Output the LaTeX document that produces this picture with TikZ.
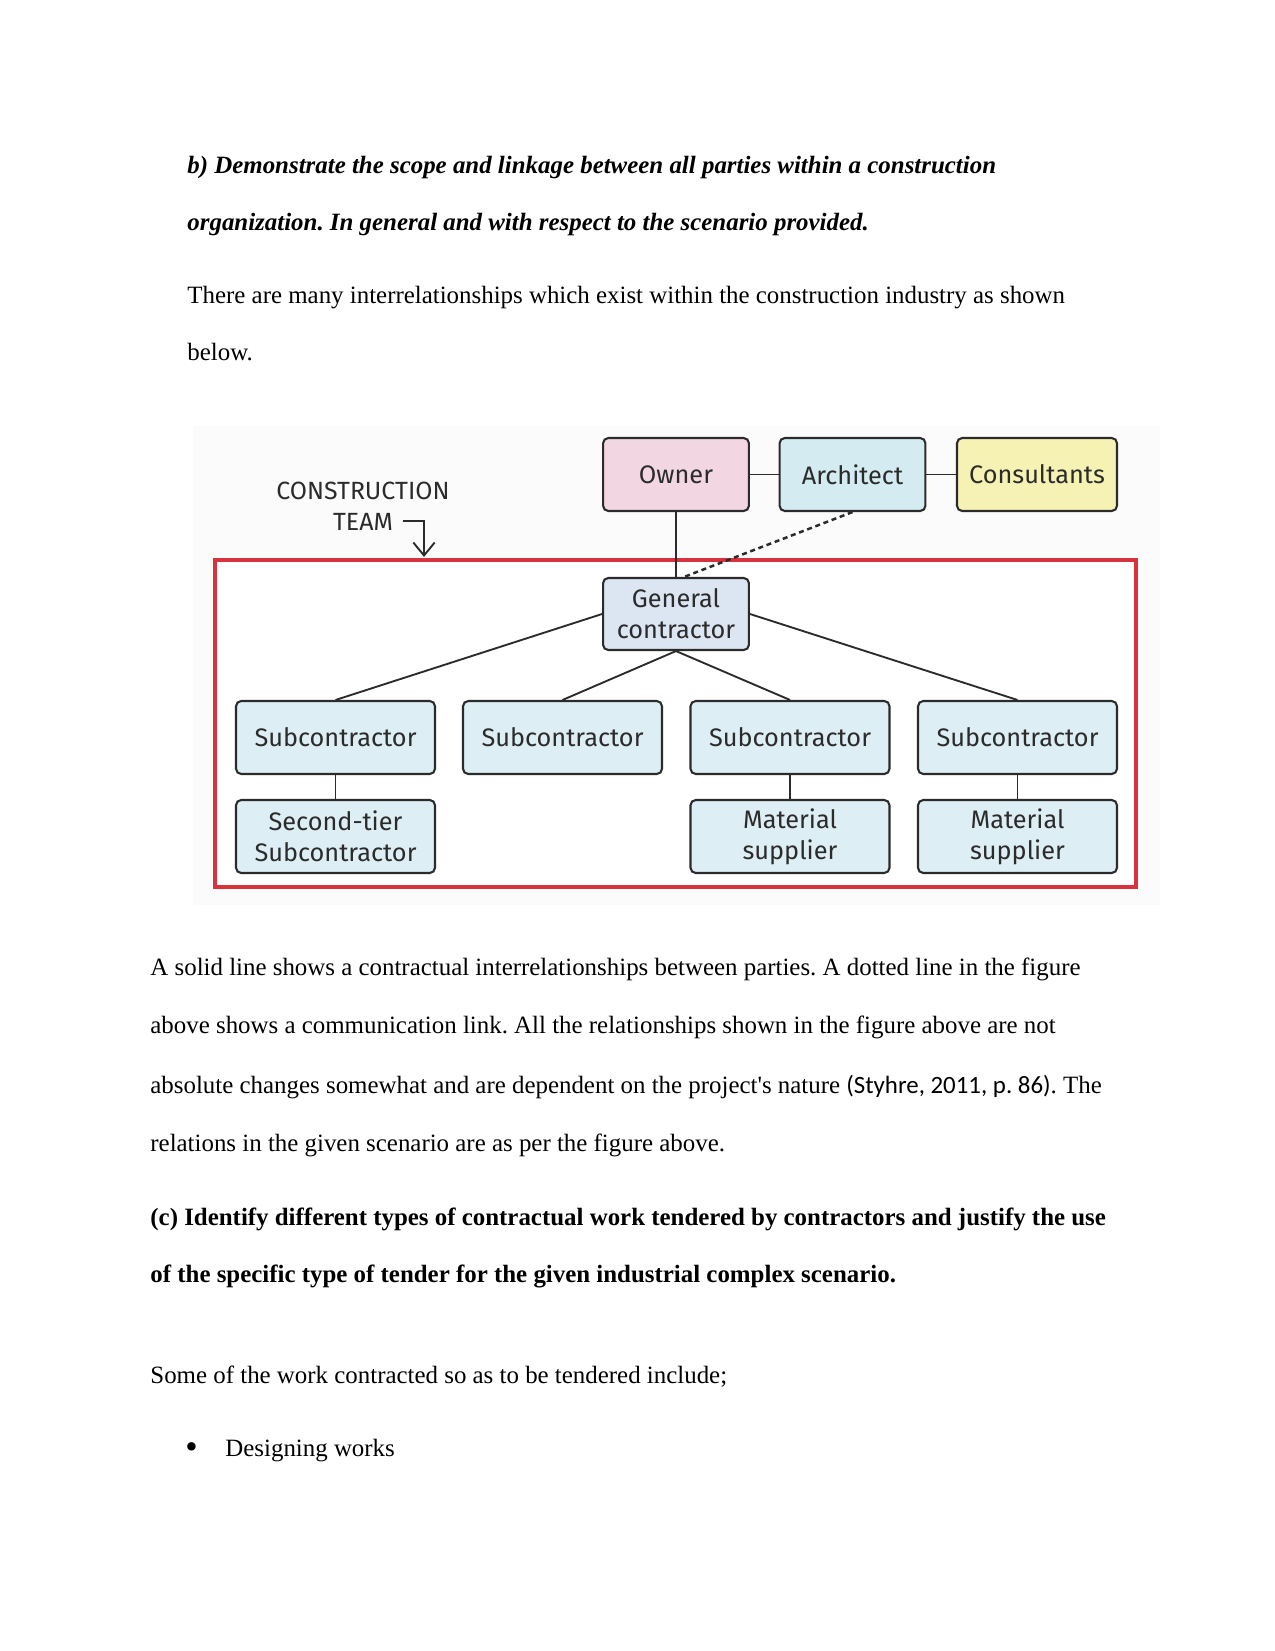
\documentclass[tikz,border=0pt]{standalone}
\usepackage{fontspec}
\setmainfont{Liberation Serif}
\newfontfamily\boxfont{Fira Sans}
\newfontfamily\citefont{Carlito}
\usetikzlibrary{arrows.meta,positioning,calc}
\frenchspacing
\definecolor{Ink}{HTML}{2B2B2B}
\definecolor{OwnerPink}{HTML}{F2D6E2}
\definecolor{ArchBlue}{HTML}{D3EBF1}
\definecolor{ConsYellow}{HTML}{F6F2B4}
\definecolor{GCBlue}{HTML}{DCE5F2}
\definecolor{SubBlue}{HTML}{DDEEF4}
\definecolor{TeamRed}{HTML}{D8333D}
\definecolor{Backdrop}{HTML}{FBFBFB}
\tikzset{party/.style={rectangle,rounded corners=2.5pt,draw=Ink,line width=1pt,minimum width=2.47cm,minimum height=1.236cm,align=center,text=Ink,font=\boxfont\fontsize{12.2}{15}\selectfont},crew/.style={party,fill=SubBlue,minimum width=3.37cm},link/.style={draw=Ink,line width=0.9pt},commlink/.style={draw=Ink,line width=1.2pt,dash pattern=on 2.4pt off 1.8pt},teamarrow/.style={draw=Ink,line width=0.9pt,-{Straight Barb[length=2.2mm,width=3.6mm]}},bodytext/.style={anchor=base west,inner sep=0pt,text=black,font=\fontsize{12}{14}\selectfont}}

\begin{document}
\begin{tikzpicture}[x=0.016933cm,y=-0.016933cm]
\useasboundingbox (0,0) rectangle (1275,1651);
\fill[white] (0,0) rectangle (1275,1651);
% heading and lead-in
\node[bodytext,font=\bfseries\itshape\fontsize{12}{14}\selectfont] (qb1) at (187,173) {b) Demonstrate the scope and linkage between all parties within a construction};
\node[bodytext,font=\bfseries\itshape\fontsize{12}{14}\selectfont] (qb2) at (187,230) {organization. In general and with respect to the scenario provided.};
\node[bodytext] (intro1) at (187,303.5) {There are many interrelationships which exist within the construction industry as shown};
\node[bodytext] (intro2) at (187,360.5) {below.};
% figure
\fill[Backdrop] (193,426) rectangle (1160,905);
\fill[white] (215,560) rectangle (1136,887);
\draw[TeamRed,line width=1.8pt] (215,560) rectangle (1136,887);
\node[party,fill=OwnerPink] (owner) at (676,474.5) {Owner};
\node[party,fill=ArchBlue] (arch) at (852.5,474.5) {Architect};
\node[party,fill=ConsYellow,minimum width=2.71cm] (cons) at (1037,474.5) {Consultants};
\node[party,fill=GCBlue,minimum height=1.22cm] (gc) at (676,614) {General\\contractor};
\node[crew] (sub1) at (335.5,737.5) {Subcontractor};
\node[crew] (sub2) at (562.5,737.5) {Subcontractor};
\node[crew] (sub3) at (790,737.5) {Subcontractor};
\node[crew] (sub4) at (1017.5,737.5) {Subcontractor};
\node[crew] (tier2) at (335.5,836.5) {Second-tier\\Subcontractor};
\node[crew] (supp1) at (790,836.5) {Material\\supplier};
\node[crew] (supp2) at (1017.5,836.5) {Material\\supplier};
\node[text=Ink,font=\boxfont\fontsize{12}{14}\selectfont,inner sep=0pt] (ctitle) at (363,491) {CONSTRUCTION};
\node[text=Ink,font=\boxfont\fontsize{12}{14}\selectfont,inner sep=0pt] (cteam) at (363,522) {TEAM};
\coordinate (teamtip) at (424,557);
\draw[teamarrow] ($(cteam.east)+(10,-1)$) -| (teamtip);
\draw[link] (owner) -- (arch);
\draw[link] (arch) -- (cons);
\draw[link] (owner.south) -- (gc.north);
\draw[commlink] (arch.south) -- ($(gc.north)+(8,0)$);
\draw[link] (gc.west) -- (sub1.north);
\draw[link] (gc.south) -- (sub2.north);
\draw[link] (gc.south) -- (sub3.north);
\draw[link] (gc.east) -- (sub4.north);
\draw[link] (sub1) -- (tier2);
\draw[link] (sub3) -- (supp1);
\draw[link] (sub4) -- (supp2);
% text after the figure
\node[bodytext] (expl1) at (150,975) {A solid line shows a contractual interrelationships between parties. A dotted line in the figure};
\node[bodytext] (expl2) at (150,1033) {above shows a communication link. All the relationships shown in the figure above are not};
\node[bodytext] (expl3) at (150,1093) {absolute changes somewhat and are dependent on the project\textquotesingle s nature {\citefont(Styhre, 2011, p. 86)}. The};
\node[bodytext] (expl4) at (150,1151) {relations in the given scenario are as per the figure above.};
\node[bodytext,font=\bfseries\fontsize{12}{14}\selectfont] (qc1) at (150,1225) {(c) Identify different types of contractual work tendered by contractors and justify the use};
\node[bodytext,font=\bfseries\fontsize{12}{14}\selectfont] (qc2) at (150,1282) {of the specific type of tender for the given industrial complex scenario.};
\node[bodytext] (works) at (150,1383) {Some of the work contracted so as to be tendered include;};
\node[bodytext,font=\fontsize{17}{14}\selectfont] (dot1) at (185,1458) {\textbullet};
\node[bodytext] (item1) at (225,1456) {Designing works};
\end{tikzpicture}
\end{document}
